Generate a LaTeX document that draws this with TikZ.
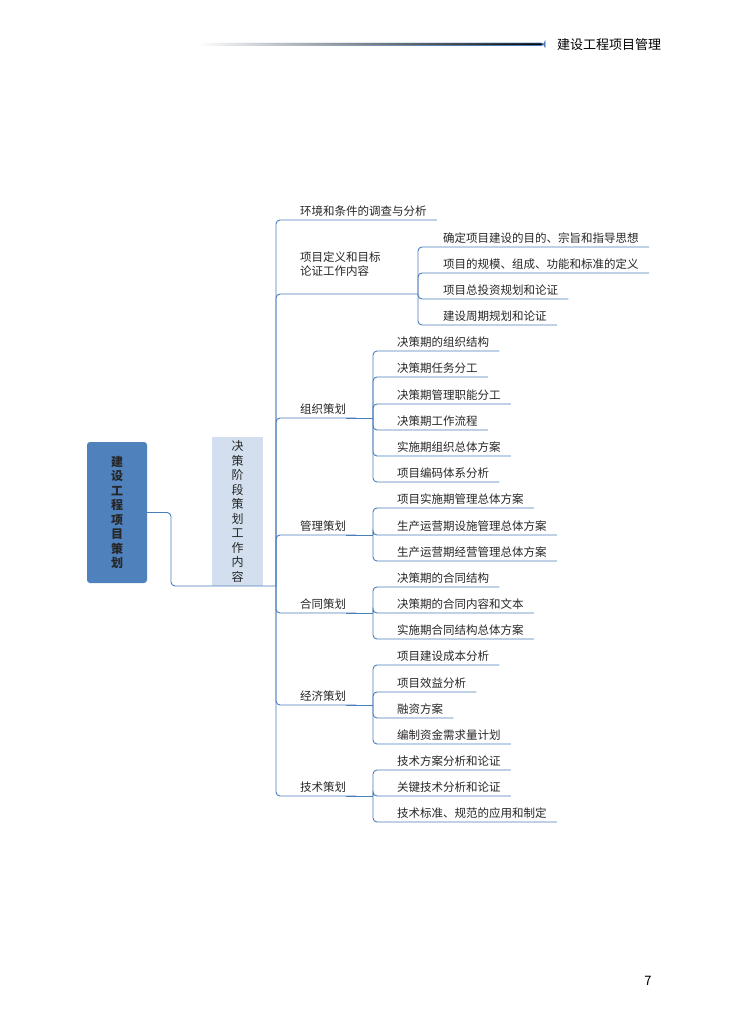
\documentclass[tikz,border=0pt]{standalone}
\usepackage{fontspec}
\setmainfont{Noto Sans CJK SC}
\usetikzlibrary{calc,fadings}
\definecolor{ln}{HTML}{4A7EBB}
\definecolor{bA}{HTML}{4F81BD}
\definecolor{bB}{HTML}{D3DFEE}
\tikzset{
 lbl/.style={inner sep=0pt,font=\fontsize{11.5}{14}\selectfont,text=black!85},
 ln/.style={draw=ln,line width=0.9pt,rounded corners=4pt},
}
\newcommand\br[5]{%
 \node[lbl,anchor=base west] (#1) at (#3,#4-5) {#5};
 \coordinate (#1e) at ($(#1.base east)+(10,5)$);
 \draw[ln] (#2) |- (#1e);}
\begin{document}
\begin{tikzpicture}[x=1pt,y=-1pt]
\useasboundingbox (0,0) rectangle (731,1028);
% header
\fill[ln,path fading=west] (200,43) rectangle (545,45.5);
\node[inner sep=0,anchor=west,font=\fontsize{13}{15}\selectfont] (hdr) at (557,45) {建设工程项目管理};
\node[inner sep=0,font=\fontsize{13}{15}\selectfont] (pg) at (648,981) {7};
% boxes
\node[fill=bA,rounded corners=3pt,minimum width=60pt,minimum height=141pt,inner sep=0,font=\fontsize{12}{14.5}\selectfont\bfseries,align=center,text=black!85] (b1) at (117,512.5) {建\\设\\工\\程\\项\\目\\策\\划};
\node[fill=bB,minimum width=51pt,minimum height=149pt,inner sep=0,font=\fontsize{12}{14.5}\selectfont,align=center,text=black!85] (b2) at (237.5,511.5) {决\\策\\阶\\段\\策\\划\\工\\作\\内\\容};
\coordinate (s0) at (276,586);
\draw[ln] (b1.east) -| (171,586) -- (s0);
% level 1
\br{a1}{s0}{300}{220}{环境和条件的调查与分析}
\node[lbl,anchor=base west,align=left] (a2) at (300,275) {项目定义和目标\\论证工作内容};
\coordinate (a2e) at (418,294);
\draw[ln] (s0) |- (a2e);
\br{a3}{s0}{300}{418}{组织策划}
\coordinate (a3e) at (373,418); \draw[ln] (a3.base east) ++(0,5) -- (a3e);
\br{a4}{s0}{300}{535}{管理策划}
\coordinate (a4e) at (373,535); \draw[ln] (a4.base east) ++(0,5) -- (a4e);
\br{a5}{s0}{300}{613}{合同策划}
\coordinate (a5e) at (373,613); \draw[ln] (a5.base east) ++(0,5) -- (a5e);
\br{a6}{s0}{300}{705}{经济策划}
\coordinate (a6e) at (373,705); \draw[ln] (a6.base east) ++(0,5) -- (a6e);
\br{a7}{s0}{300}{796}{技术策划}
\coordinate (a7e) at (373,796); \draw[ln] (a7.base east) ++(0,5) -- (a7e);
% level 2
\br{c1}{a2e}{443}{247}{确定项目建设的目的、宗旨和指导思想}
\br{c2}{a2e}{443}{273}{项目的规模、组成、功能和标准的定义}
\br{c3}{a2e}{443}{299}{项目总投资规划和论证}
\br{c4}{a2e}{443}{325}{建设周期规划和论证}
\br{d1}{a3e}{397}{351}{决策期的组织结构}
\br{d2}{a3e}{397}{377}{决策期任务分工}
\br{d3}{a3e}{397}{404}{决策期管理职能分工}
\br{d4}{a3e}{397}{430}{决策期工作流程}
\br{d5}{a3e}{397}{456}{实施期组织总体方案}
\br{d6}{a3e}{397}{482}{项目编码体系分析}
\br{e1}{a4e}{397}{508}{项目实施期管理总体方案}
\br{e2}{a4e}{397}{535}{生产运营期设施管理总体方案}
\br{e3}{a4e}{397}{561}{生产运营期经营管理总体方案}
\br{f1}{a5e}{397}{587}{决策期的合同结构}
\br{f2}{a5e}{397}{613}{决策期的合同内容和文本}
\br{f3}{a5e}{397}{639}{实施期合同结构总体方案}
\br{g1}{a6e}{397}{665}{项目建设成本分析}
\br{g2}{a6e}{397}{692}{项目效益分析}
\br{g3}{a6e}{397}{718}{融资方案}
\br{g4}{a6e}{397}{744}{编制资金需求量计划}
\br{h1}{a7e}{397}{770}{技术方案分析和论证}
\br{h2}{a7e}{397}{796}{关键技术分析和论证}
\br{h3}{a7e}{397}{822}{技术标准、规范的应用和制定}
\end{tikzpicture}
\end{document}
